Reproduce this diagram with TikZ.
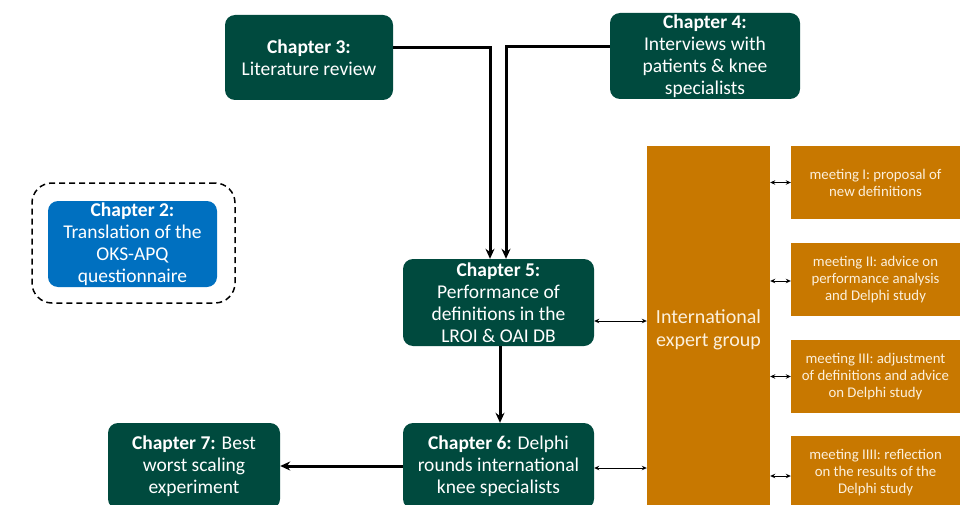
\documentclass[tikz,border=0pt]{standalone}
\usepackage{fontspec}
\setmainfont{Carlito}
\usetikzlibrary{arrows.meta,calc}
\definecolor{dgreen}{RGB}{0,74,62}
\definecolor{cblue}{RGB}{0,112,192}
\definecolor{corange}{RGB}{200,120,0}
\definecolor{otext}{RGB}{252,240,220}
\begin{document}
\begin{tikzpicture}[x=1pt,y=-1pt,
  chap/.style={fill=dgreen, rounded corners=10pt, text=white, align=center,
    font=\fontsize{19.5}{22}\selectfont, inner sep=0pt},
  bluebox/.style={chap, fill=cblue},
  obox/.style={fill=corange, text=otext, align=center, inner sep=0pt},
  meet/.style={obox, font=\fontsize{14.8}{17}\selectfont, minimum width=169pt},
  thickarr/.style={line width=3pt, -{Stealth[length=10pt,width=9pt]}},
  thinarr/.style={line width=0.9pt, {Stealth[length=5pt,width=4.5pt]}-{Stealth[length=5pt,width=4.5pt]}}
]
\useasboundingbox (0,0) rectangle (965,505);

\node[chap, minimum width=168pt, minimum height=85pt] (c3) at (309,57.5)
  {\textbf{Chapter 3:}\\Literature review};
\node[chap, minimum width=190pt, minimum height=86pt] (c4) at (705,56)
  {\textbf{Chapter 4:}\\Interviews with\\patients \& knee\\specialists};
\node[draw, dash pattern=on 6pt off 4pt, line width=1.5pt, rounded corners=20pt, minimum width=203pt, minimum height=120pt] (dash) at (133.5,243) {};
\node[bluebox, minimum width=169pt, minimum height=86pt] (c2) at (132.5,244)
  {\textbf{Chapter 2:}\\Translation of the\\OKS-APQ\\questionnaire};
\node[chap, minimum width=191pt, minimum height=87pt] (c5) at (498.5,302.5)
  {\textbf{Chapter 5:}\\Performance of\\definitions in the\\LROI \& OAI DB};
\node[chap, minimum width=191pt, minimum height=86pt] (c6) at (498.5,466)
  {\textbf{Chapter 6:} Delphi\\rounds international\\knee specialists};
\node[chap, minimum width=172pt, minimum height=86pt] (c7) at (194,466)
  {\textbf{Chapter 7:} Best\\worst scaling\\experiment};

\node[obox, font=\fontsize{20}{23}\selectfont, minimum width=123pt, minimum height=368pt] (eg) at (708.5,330)
  {International\\expert group};

\node[meet, minimum height=73pt] (m1) at (875.5,182.5) {meeting I: proposal of\\new definitions};
\node[meet, minimum height=73pt] (m2) at (875.5,279.5) {meeting II: advice on\\performance analysis\\and Delphi study};
\node[meet, minimum height=73pt] (m3) at (875.5,376.5) {meeting III: adjustment\\of definitions and advice\\on Delphi study};
\node[meet, minimum height=73pt] (m4) at (875.5,472.5) {meeting IIII: reflection\\on the results of the\\Delphi study};

\coordinate (c3out) at ([yshift=10pt]c3.east);
\coordinate (c4out) at ([yshift=9pt]c4.west);
\coordinate (c5inA) at ([xshift=-8.5pt]c5.north);
\coordinate (c5inB) at ([xshift=7.5pt]c5.north);
\draw[thickarr] (c3out) -| (c5inA);
\draw[thickarr] (c4out) -| (c5inB);
\draw[thickarr] ([xshift=1.5pt]c5.south) -- ([xshift=1.5pt]c6.north);
\draw[thickarr] (c6.west) -- (c7.east);

\draw[thinarr] ([yshift=-18.5pt]c5.east) -- ([yshift=-18.5pt]c5.east -| eg.west);
\draw[thinarr] ([yshift=-2pt]c6.east) -- ([yshift=-2pt]c6.east -| eg.west);
\draw[thinarr] (m1.west -| eg.east) -- (m1.west);
\draw[thinarr] ([yshift=-1.5pt]m2.west -| eg.east) -- ([yshift=-1.5pt]m2.west);
\draw[thinarr] (m3.west -| eg.east) -- (m3.west);
\draw[thinarr] ([yshift=-3.5pt]m4.west -| eg.east) -- ([yshift=-3.5pt]m4.west);
\end{tikzpicture}
\end{document}
